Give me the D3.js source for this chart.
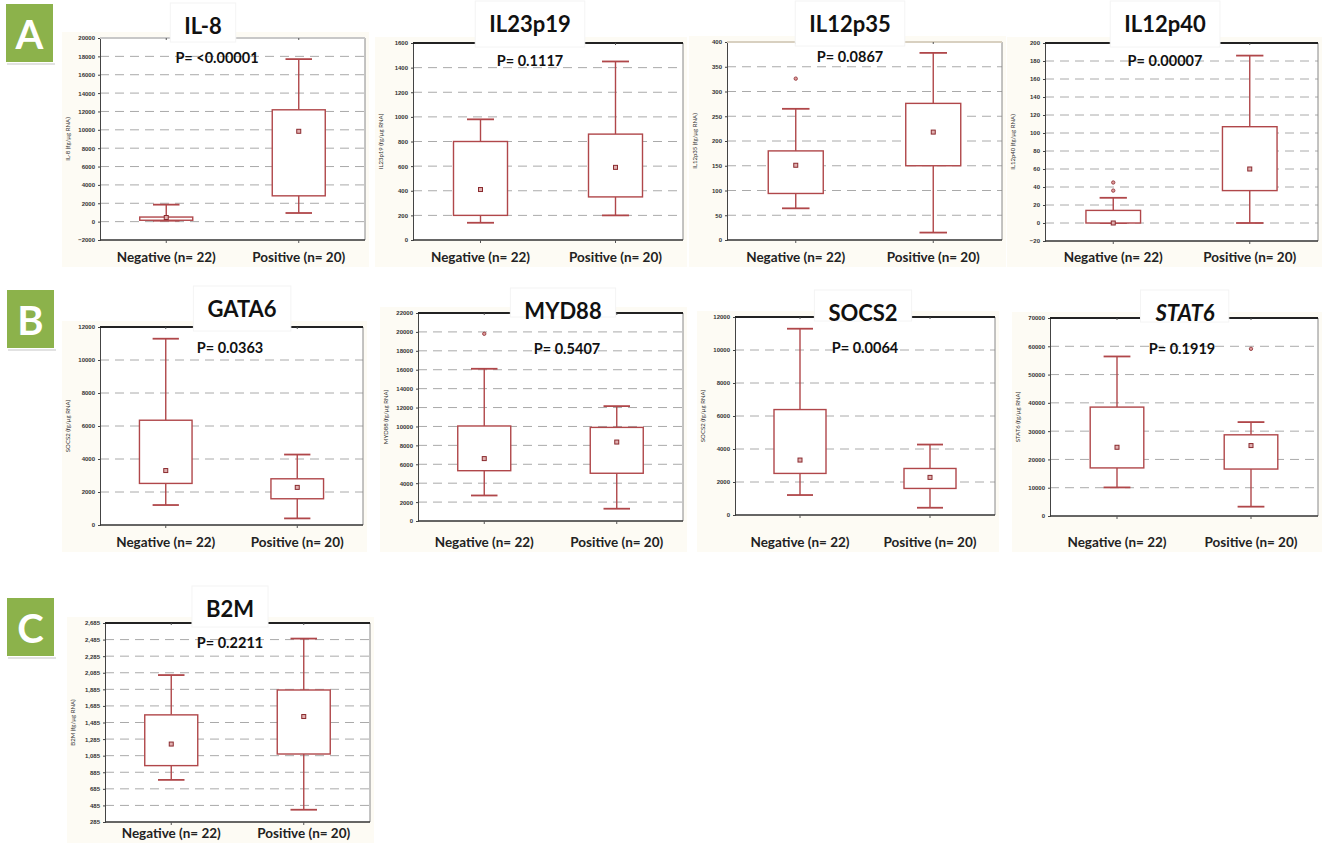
<!DOCTYPE html>
<html>
<head>
<meta charset="utf-8">
<script src="https://cdn.jsdelivr.net/npm/d3@7"></script>
<style>
body{margin:0;background:#fff;}
svg{display:block;font-family:Lato,'Open Sans',sans-serif;}
</style>
</head>
<body>
<div id="chart"></div>
<script>
// ---- data ----
var genes = ['IL-8', 'IL23p19', 'IL12p35', 'IL12p40', 'GATA6', 'MYD88', 'SOCS2', 'STAT6', 'B2M'];
var pLabels = ['P= <0.00001', 'P= 0.1117', 'P= 0.0867', 'P= 0.00007', 'P= 0.0363', 'P= 0.5407', 'P= 0.0064', 'P= 0.1919', 'P= 0.2211'];
var yTitles = ['IL-8 (fg/\u00b5g RNA)', 'IL23p19 (fg/\u00b5g RNA)', 'IL12p35 (fg/\u00b5g RNA)', 'IL12p40 (fg/\u00b5g RNA)',
    'SOCS2 (fg/\u00b5g RNA)', 'MYD88 (fg/\u00b5g RNA)', 'SOCS2 (fg/\u00b5g RNA)', 'STAT6 (fg/\u00b5g RNA)', 'B2M (fg/\u00b5g RNA)'];
var groups = ['Negative (n= 22)', 'Positive (n= 20)'];
var letters = ['A', 'B', 'C'];

// [whisker low, q1, median, q3, whisker high]
var negStats = [
    [100, 150, 450, 500, 1850],
    [140, 200, 410, 800, 980],
    [64, 94, 151, 180, 265],
    [0, 0, 0, 14, 28],
    [1210, 2520, 3300, 6350, 11290],
    [2700, 5320, 6600, 10050, 16100],
    [1210, 2520, 3330, 6390, 11290],
    [10100, 17000, 24300, 38500, 56400],
    [793, 965, 1225, 1577, 2057]
];
var posStats = [
    [940, 2810, 9840, 12180, 17700],
    [200, 350, 590, 860, 1450],
    [15, 150, 218, 276, 378],
    [0, 36, 60, 107, 186],
    [400, 1590, 2280, 2800, 4270],
    [1300, 5050, 8350, 9900, 12150],
    [440, 1610, 2280, 2820, 4270],
    [3300, 16600, 24900, 28700, 33200],
    [433, 1105, 1557, 1877, 2497]
];
var negOutliers = [[], [], [326], [45, 36], [], [19800], [], [], []];
var posOutliers = [[], [], [], [], [], [], [], [59100], []];

var yTicks = [
    [-2000, 0, 2000, 4000, 6000, 8000, 10000, 12000, 14000, 16000, 18000, 20000],
    [0, 200, 400, 600, 800, 1000, 1200, 1400, 1600],
    [0, 50, 100, 150, 200, 250, 300, 350, 400],
    [-20, 0, 20, 40, 60, 80, 100, 120, 140, 160, 180, 200],
    [0, 2000, 4000, 6000, 8000, 10000, 12000],
    [0, 2000, 4000, 6000, 8000, 10000, 12000, 14000, 16000, 18000, 20000, 22000],
    [0, 2000, 4000, 6000, 8000, 10000, 12000],
    [0, 10000, 20000, 30000, 40000, 50000, 60000, 70000],
    [285, 485, 685, 885, 1085, 1285, 1485, 1685, 1885, 2085, 2285, 2485, 2685]
];

// ---- layout ----
var frames = [
    {x0:100, x1:365, y0:38, y1:240, tx:203, ty:25, px:217, py:57, top:'#c8c8c8', row:0},
    {x0:413, x1:683, y0:43, y1:240, tx:530, ty:23, px:530, py:60, top:'#222', row:0},
    {x0:727, x1:1002, y0:42, y1:240, tx:850, ty:23, px:850, py:56, top:'#d8d0c0', row:0},
    {x0:1045, x1:1318, y0:43, y1:241, tx:1165, ty:23, px:1165, py:60, top:'#222', row:0},
    {x0:100, x1:363, y0:327, y1:525, tx:242, ty:308, px:230, py:347, top:'#222', row:1},
    {x0:418, x1:683, y0:313, y1:521, tx:563, ty:310, px:567, py:348, top:'#222', row:1},
    {x0:735, x1:995, y0:317, y1:515, tx:863, ty:312, px:865, py:347, top:'#222', row:1},
    {x0:1050, x1:1318, y0:318, y1:516, tx:1185, ty:312, px:1182, py:348, top:'#222', row:1},
    {x0:105, x1:370, y0:623, y1:822, tx:230, ty:608, px:230, py:642, top:'#222', row:2}
];
var labelY = [257, 542, 833];
var letterBoxes = [{x:6, y:4}, {x:7, y:290}, {x:7, y:598}];

var red = '#b0474a', green = '#8cb24b', cream = '#fdfbf4';

var svg = d3.select('#chart').append('svg')
    .attr('width', 1322)
    .attr('height', 845);

// letter tags
letterBoxes.forEach(function(b, i){
    svg.append('rect').attr('x', b.x + 1).attr('y', b.y + 59).attr('width', 48).attr('height', 2).attr('fill', '#e2e2e2');
    svg.append('rect').attr('x', b.x).attr('y', b.y).attr('width', 47).attr('height', 58).attr('fill', green);
    svg.append('text').attr('x', b.x + 23.5).attr('y', b.y + 30)
        .attr('text-anchor', 'middle').attr('dominant-baseline', 'central')
        .attr('font-size', 40).attr('font-weight', 'bold').attr('fill', '#fff')
        .text(letters[i]);
});

frames.forEach(function(f, i){
    var g = svg.append('g');

    var x = d3.scaleBand().domain(groups).range([f.x0, f.x1]);
    var y = d3.scaleLinear()
        .domain([yTicks[i][0], yTicks[i][yTicks[i].length - 1]])
        .range([f.y1, f.y0]);
    var bw = x.bandwidth();
    var cx = function(k){ return x(groups[k]) + bw / 2; };

    // faint cream background and white plot area
    g.append('rect').attr('x', f.x0 - 38).attr('y', f.y0 - 6)
        .attr('width', f.x1 - f.x0 + 42).attr('height', labelY[f.row] - f.y0 + 16)
        .attr('fill', cream);
    g.append('rect').attr('x', f.x0).attr('y', f.y0)
        .attr('width', f.x1 - f.x0).attr('height', f.y1 - f.y0).attr('fill', '#fff');

    // dashed grid
    g.selectAll('.grid').data(yTicks[i].slice(1, -1)).enter().append('line')
        .attr('x1', f.x0).attr('x2', f.x1)
        .attr('y1', function(d){ return y(d); }).attr('y2', function(d){ return y(d); })
        .attr('stroke', '#aaa').attr('stroke-width', 1).attr('stroke-dasharray', '9,6');

    // y axis
    var ax = g.append('g').attr('transform', 'translate(' + f.x0 + ',0)')
        .call(d3.axisLeft(y).tickValues(yTicks[i]).tickSize(2)
            .tickFormat(i === 8 ? d3.format(',') : d3.format('d')));
    ax.select('.domain').attr('stroke', '#444');
    ax.selectAll('.tick line').attr('stroke', '#444');
    ax.selectAll('text').attr('font-size', 6).attr('fill', '#333').attr('font-weight', 'bold');

    g.append('text')
        .attr('transform', 'translate(' + (f.x0 - 30) + ',' + ((f.y0 + f.y1) / 2) + ') rotate(-90)')
        .attr('text-anchor', 'middle').attr('font-size', 6).attr('fill', '#333')
        .text(yTitles[i]);

    // frame
    g.append('line').attr('x1', f.x1).attr('x2', f.x1).attr('y1', f.y0).attr('y2', f.y1)
        .attr('stroke', '#888').attr('stroke-width', 1);
    g.append('line').attr('x1', f.x0).attr('x2', f.x1).attr('y1', f.y1).attr('y2', f.y1)
        .attr('stroke', '#333').attr('stroke-width', 1.5);
    g.append('line').attr('x1', f.x0).attr('x2', f.x1).attr('y1', f.y0).attr('y2', f.y0)
        .attr('stroke', f.top).attr('stroke-width', 2);

    // small group ticks on top and bottom
    [0, 1].forEach(function(k){
        g.append('line').attr('x1', cx(k)).attr('x2', cx(k)).attr('y1', f.y1).attr('y2', f.y1 + 3)
            .attr('stroke', '#555');
        g.append('line').attr('x1', cx(k)).attr('x2', cx(k)).attr('y1', f.y0).attr('y2', f.y0 + 2)
            .attr('stroke', '#555');
    });

    // boxes
    [negStats[i], posStats[i]].forEach(function(s, k){
        var c = cx(k), hw = bw * 0.2, cw = bw * 0.1;
        g.append('line').attr('x1', c).attr('x2', c).attr('y1', y(s[0])).attr('y2', y(s[1]))
            .attr('stroke', red).attr('stroke-width', 1.4);
        g.append('line').attr('x1', c).attr('x2', c).attr('y1', y(s[3])).attr('y2', y(s[4]))
            .attr('stroke', red).attr('stroke-width', 1.4);
        g.append('line').attr('x1', c - cw).attr('x2', c + cw).attr('y1', y(s[0])).attr('y2', y(s[0]))
            .attr('stroke', red).attr('stroke-width', 1.8);
        g.append('line').attr('x1', c - cw).attr('x2', c + cw).attr('y1', y(s[4])).attr('y2', y(s[4]))
            .attr('stroke', red).attr('stroke-width', 1.8);
        g.append('rect').attr('x', c - hw).attr('y', y(s[3]))
            .attr('width', hw * 2).attr('height', Math.max(1, y(s[1]) - y(s[3])))
            .attr('fill', '#fff').attr('stroke', red).attr('stroke-width', 1.4);
        g.append('rect').attr('x', c - 2).attr('y', y(s[2]) - 2).attr('width', 4).attr('height', 4)
            .attr('fill', '#e0b0b0').attr('stroke', '#8a2a2e').attr('stroke-width', 1);
    });

    [negOutliers[i], posOutliers[i]].forEach(function(list, k){
        g.selectAll(null).data(list).enter().append('circle')
            .attr('cx', cx(k)).attr('cy', function(d){ return y(d); }).attr('r', 1.7)
            .attr('fill', '#d99').attr('stroke', '#8a2a2e').attr('stroke-width', 0.8);
    });

    // title with white box over the top border
    var t = g.append('text').attr('x', f.tx).attr('y', f.ty)
        .attr('text-anchor', 'middle').attr('dominant-baseline', 'central')
        .attr('font-size', 22).attr('font-weight', 'bold').attr('fill', '#111')
        .attr('font-style', genes[i] === 'STAT6' ? 'italic' : 'normal')
        .text(genes[i]);
    var bb = t.node().getBBox();
    g.insert('rect', function(){ return t.node(); })
        .attr('x', bb.x - 14).attr('y', f.ty - 22)
        .attr('width', bb.width + 28).attr('height', f.y0 + 4 - (f.ty - 22))
        .attr('fill', '#fff').attr('stroke', '#f4f4f4');

    g.append('text').attr('x', f.px).attr('y', f.py)
        .attr('text-anchor', 'middle').attr('dominant-baseline', 'central')
        .attr('font-size', 14.5).attr('font-weight', 'bold').attr('fill', '#111')
        .text(pLabels[i]);

    // group labels
    g.selectAll('.grp').data(groups).enter().append('text')
        .attr('x', function(d){ return x(d) + bw / 2; })
        .attr('y', labelY[f.row])
        .attr('text-anchor', 'middle').attr('dominant-baseline', 'central')
        .attr('font-size', 13.5).attr('font-weight', 'bold').attr('fill', '#222')
        .text(function(d){ return d; });
});
</script>
</body>
</html>
